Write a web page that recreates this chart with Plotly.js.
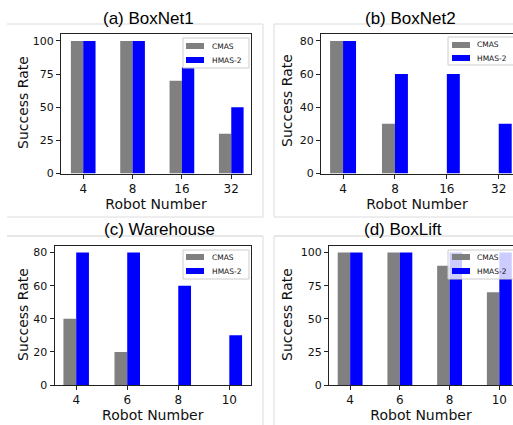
<!DOCTYPE html>
<html>
<head>
<meta charset="utf-8">
<script src="https://cdn.plot.ly/plotly-3.0.1.min.js"></script>
<style>
html,body{margin:0;padding:0;background:#fff;}
#chart{width:513px;height:425px;}
</style>
</head>
<body>
<div id="chart"></div>
<script>
// ---- data ----
const boxnetLabels = ['4', '8', '16', '32'];
const warehouseLabels = ['4', '6', '8', '10'];
const boxliftLabels = ['4', '6', '8', '10'];

const boxnet1CMAS = [100, 100, 70, 30];
const boxnet1HMAS = [100, 100, 80, 50];
const boxnet2CMAS = [80, 30, 0, 0];
const boxnet2HMAS = [80, 60, 60, 30];
const warehouseCMAS = [40, 20, 0, 0];
const warehouseHMAS = [80, 80, 60, 30];
const boxliftCMAS = [100, 100, 90, 70];
const boxliftHMAS = [100, 100, 100, 100];

const seriesNames = ['CMAS', 'HMAS-2'];
const panelTitles = ['(a) BoxNet1', '(b) BoxNet2', '(c) Warehouse', '(d) BoxLift'];
const xTitle = 'Robot Number';
const yTitle = 'Success Rate';

// ---- layout helpers ----
const W = 513, H = 425;
const PX = p => p / W;
const PY = p => (H - p) / H;
const gray = '#808080', blue = '#0000ff';
const seriesColors = [gray, blue];
const xTickFont = {family: 'DejaVu Sans, sans-serif', size: 12, color: '#111'};
const yTickFont = {family: 'DejaVu Sans, sans-serif', size: 11, color: '#111'};
const titleFont = {family: 'DejaVu Sans, sans-serif', size: 14, color: '#111'};

function bar(x, y, idx, xa, ya) {
  return {type: 'bar', x: x, y: y, name: seriesNames[idx], xaxis: xa, yaxis: ya,
    marker: {color: seriesColors[idx], line: {width: 0}}, hoverinfo: 'skip', showlegend: false};
}

const data = [
  bar(boxnetLabels, boxnet1CMAS, 0, 'x', 'y'),
  bar(boxnetLabels, boxnet1HMAS, 1, 'x', 'y'),
  bar(boxnetLabels, boxnet2CMAS, 0, 'x2', 'y2'),
  bar(boxnetLabels, boxnet2HMAS, 1, 'x2', 'y2'),
  bar(warehouseLabels, warehouseCMAS, 0, 'x3', 'y3'),
  bar(warehouseLabels, warehouseHMAS, 1, 'x3', 'y3'),
  bar(boxliftLabels, boxliftCMAS, 0, 'x4', 'y4'),
  bar(boxliftLabels, boxliftHMAS, 1, 'x4', 'y4')
];

function xax(domain, range, anchor) {
  return {type: 'category', domain: domain, range: range, anchor: anchor,
    showline: true, linecolor: '#222', linewidth: 1, mirror: true,
    ticks: 'outside', ticklen: 4, tickcolor: '#222', showgrid: false, zeroline: false,
    tickfont: xTickFont, fixedrange: true,
    title: {text: xTitle, font: titleFont, standoff: 1}};
}
function yax(domain, range, anchor, dtick, mirror) {
  return {domain: domain, range: range, anchor: anchor, dtick: dtick,
    showline: true, linecolor: '#222', linewidth: 1, mirror: mirror,
    ticks: 'outside', ticklen: 4, tickcolor: '#222', showgrid: false, zeroline: false,
    tickfont: yTickFont, fixedrange: true};
}
function hline(y, x0, x1, c) {
  return {type: 'line', xref: 'paper', yref: 'paper', x0: PX(x0), x1: PX(x1), y0: PY(y), y1: PY(y),
    line: {color: c || '#dcdcdc', width: 1}, layer: 'below'};
}
function vline(x, y0, y1, c) {
  return {type: 'line', xref: 'paper', yref: 'paper', x0: PX(x), x1: PX(x), y0: PY(y0), y1: PY(y1),
    line: {color: c || '#dcdcdc', width: 1}, layer: 'below'};
}
function ptitle(text, xc, yc) {
  return {text: text, xref: 'paper', yref: 'paper', x: PX(xc), y: PY(yc),
    xanchor: 'center', yanchor: 'middle', showarrow: false,
    font: {family: 'Liberation Sans, Arial, sans-serif', size: 17, color: '#000'}};
}
function ytitle(xc, yc) {
  return {text: yTitle, xref: 'paper', yref: 'paper', x: PX(xc), y: PY(yc),
    xanchor: 'center', yanchor: 'middle', showarrow: false, textangle: -90,
    font: titleFont};
}

// legend drawn as a box, swatches and labels (one per panel)
const shapes = [];
const annotations = [];
function addLegend(bx0, bx1, by0, by1, sx0, sx1, rows, tx) {
  shapes.push({type: 'rect', xref: 'paper', yref: 'paper', layer: 'above',
    x0: PX(bx0), x1: PX(bx1), y0: PY(by1), y1: PY(by0),
    fillcolor: 'rgba(255,255,255,0.8)', line: {color: '#cccccc', width: 1}});
  rows.forEach((ry, i) => {
    shapes.push({type: 'rect', xref: 'paper', yref: 'paper', layer: 'above',
      x0: PX(sx0), x1: PX(sx1), y0: PY(ry + 3), y1: PY(ry - 3),
      fillcolor: seriesColors[i], line: {width: 0}});
    annotations.push({text: seriesNames[i], xref: 'paper', yref: 'paper',
      x: PX(tx), y: PY(ry), xanchor: 'left', yanchor: 'middle', showarrow: false,
      borderpad: 0, font: {family: 'DejaVu Sans, sans-serif', size: 7.5, color: '#111'}});
  });
}

shapes.push(
  hline(24, 7, 263), vline(263, 24, 217), hline(217, 7, 263),
  vline(274, 24, 217), hline(24, 274, 513), hline(217, 274, 513),
  hline(236, 7, 263, '#cfcfcf'), vline(263, 236, 425),
  vline(274, 236, 425), hline(236, 274, 513, '#cfcfcf')
);

addLegend(183, 249, 38, 68, 186, 204, [46, 60], 211);
addLegend(448, 520, 37, 65, 452, 470, [45, 58], 476);
addLegend(183, 249, 250, 279, 186, 204, [257, 271], 211);
addLegend(448, 520, 250, 279, 452, 470, [257, 271], 476);

annotations.push(
  ptitle(panelTitles[0], 148, 18),
  ptitle(panelTitles[1], 410, 18),
  ptitle(panelTitles[2], 159, 229),
  ptitle(panelTitles[3], 403, 229),
  ytitle(23, 103), ytitle(287, 101), ytitle(23, 315), ytitle(287, 315)
);

const topDom = [PY(173.5), PY(34.3)];
const botDom = [PY(385), PY(246)];

const layout = {
  width: W, height: H,
  margin: {l: 0, r: 0, t: 0, b: 0, pad: 0},
  paper_bgcolor: '#fff', plot_bgcolor: '#fff',
  barmode: 'group', bargap: 0.5, bargroupgap: 0,
  showlegend: false,
  xaxis:  xax([PX(61), PX(251)], [-0.45, 3.4], 'y'),
  yaxis:  yax(topDom, [0, 105], 'x', 25, true),
  xaxis2: xax([PX(321), 1], [-0.425, 3.275], 'y2'),
  yaxis2: yax(topDom, [0, 84], 'x2', 20, false),
  xaxis3: xax([PX(54.5), PX(251)], [-0.425, 3.425], 'y3'),
  yaxis3: yax(botDom, [0, 84], 'x3', 20, true),
  xaxis4: xax([PX(329), 1], [-0.425, 3.275], 'y4'),
  yaxis4: yax(botDom, [0, 105], 'x4', 25, false),
  annotations: annotations,
  shapes: shapes
};

Plotly.newPlot('chart', data, layout, {displayModeBar: false, staticPlot: true});
</script>
</body>
</html>
